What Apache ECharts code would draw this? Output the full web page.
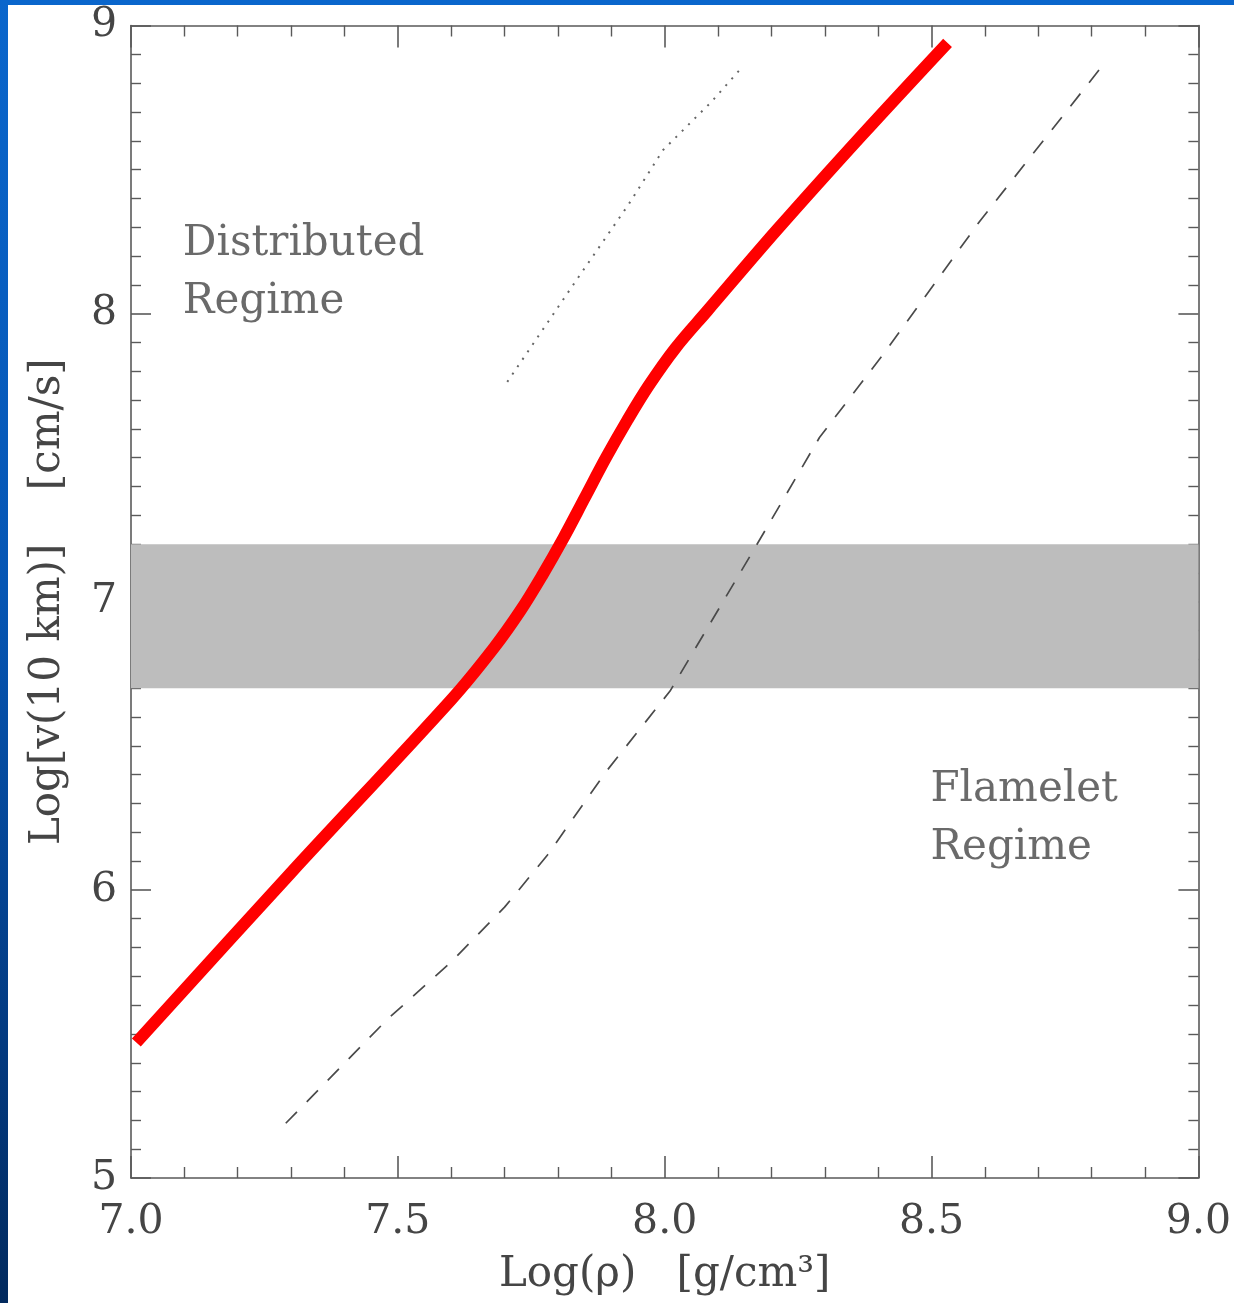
<!DOCTYPE html>
<html>
<head>
<meta charset="utf-8">
<script src="https://cdn.jsdelivr.net/npm/echarts@6/dist/echarts.min.js"></script>
<style>
  html, body { margin: 0; padding: 0; }
  body {
    width: 1234px; height: 1303px; overflow: hidden;
    background: linear-gradient(180deg, #0a66cc 0%, #0656b4 45%, #033a80 80%, #022a5e 100%);
    position: relative;
  }
  #chart {
    position: absolute; left: 8px; top: 5px;
    width: 1226px; height: 1298px; background: #ffffff;
  }
</style>
</head>
<body>
<div id="chart"></div>
<script>
// Axis ranges (log density, log velocity)
const rhoRange = [7.0, 9.0];
const velRange = [5, 9];

// Transition band between the two burning regimes
const bandLow = 6.7;
const bandHigh = 7.2;

// Thick red curve: turbulent velocity at 10 km
const fitRho = [7.01, 7.30, 7.60, 7.68, 7.73, 7.77, 7.81, 7.85, 7.89, 7.93, 7.97, 8.02, 8.08, 8.21, 8.37, 8.53];
const fitVel = [5.47, 6.06, 6.66, 6.84, 6.97, 7.09, 7.22, 7.36, 7.50, 7.63, 7.75, 7.88, 8.01, 8.29, 8.62, 8.94];

// Dashed curve
const dashRho = [7.29, 7.48, 7.60, 7.70, 7.78, 7.89, 8.01, 8.17, 8.29, 8.41, 8.59, 8.82];
const dashVel = [5.19, 5.55, 5.75, 5.94, 6.12, 6.41, 6.69, 7.19, 7.57, 7.86, 8.32, 8.86];

// Dotted curve
const dotRho = [7.705, 7.833, 7.932, 7.997, 8.087, 8.143];
const dotVel = [7.763, 8.112, 8.378, 8.568, 8.734, 8.851];

// Regime annotations: [rho, vel, text]
const regimeLabels = [
  [7.097, 8.14, 'Distributed\nRegime'],
  [8.498, 6.245, 'Flamelet\nRegime']
];

const xTitle = 'Log(\u03c1)   [g/cm\u00b3]';
const yTitle = 'Log[v(10 km)]    [cm/s]';

const FONT = '"DejaVu Serif", "Liberation Serif", serif';
const INK = '#454545';
const AXIS = '#5a5a5a';

const zip = (xs, ys) => xs.map((x, i) => [x, ys[i]]);

function xAxisCfg(pos, showLabel) {
  return {
    type: 'value', position: pos,
    min: rhoRange[0], max: rhoRange[1], interval: 0.5,
    name: showLabel ? xTitle : '',
    nameLocation: 'middle', nameGap: 76,
    nameTextStyle: { fontFamily: FONT, fontSize: 42, color: INK },
    axisLine: { show: true, onZero: false, lineStyle: { color: AXIS, width: 1.6 } },
    axisTick: { show: true, inside: true, length: 22, lineStyle: { color: AXIS, width: 1.6 } },
    minorTick: { show: true, splitNumber: 5, length: 11, lineStyle: { color: AXIS, width: 1.4 } },
    splitLine: { show: false },
    axisLabel: {
      show: showLabel, margin: 24,
      fontFamily: FONT, fontSize: 41, color: INK,
      formatter: v => v.toFixed(1)
    }
  };
}

function yAxisCfg(pos, showLabel) {
  return {
    type: 'value', position: pos,
    min: velRange[0], max: velRange[1], interval: 1,
    name: showLabel ? yTitle : '',
    nameLocation: 'middle', nameGap: 62, nameRotate: 90,
    nameTextStyle: { fontFamily: FONT, fontSize: 42, color: INK },
    axisLine: { show: true, onZero: false, lineStyle: { color: AXIS, width: 1.6 } },
    axisTick: { show: true, inside: true, length: 20, lineStyle: { color: AXIS, width: 1.6 } },
    minorTick: { show: true, splitNumber: 10, length: 10, lineStyle: { color: AXIS, width: 1.4 } },
    splitLine: { show: false },
    axisLabel: {
      show: showLabel, margin: 14,
      fontFamily: FONT, fontSize: 41, color: INK,
      formatter: v => String(v)
    }
  };
}

const chart = echarts.init(document.getElementById('chart'), null, { renderer: 'canvas' });

chart.setOption({
  backgroundColor: '#ffffff',
  animation: false,
  grid: { left: 123, top: 15, right: 32, bottom: 125 },
  xAxis: [xAxisCfg('bottom', true), xAxisCfg('top', false)],
  yAxis: [yAxisCfg('left', true), yAxisCfg('right', false)],
  series: [
    {
      name: 'dashed',
      type: 'line', xAxisIndex: 0, yAxisIndex: 0,
      data: zip(dashRho, dashVel),
      symbol: 'none', smooth: false,
      lineStyle: { color: '#4a4a4a', width: 1.7, type: [16, 14] },
      markArea: {
        silent: true,
        itemStyle: { color: '#bdbdbd' },
        data: [[{ yAxis: bandLow }, { yAxis: bandHigh }]]
      },
      z: 3
    },
    {
      name: 'dotted',
      type: 'line', xAxisIndex: 0, yAxisIndex: 0,
      data: zip(dotRho, dotVel),
      symbol: 'none', smooth: false,
      lineStyle: { color: '#666666', width: 2, type: [2, 7] },
      z: 3
    },
    {
      name: 'velocity',
      type: 'line', xAxisIndex: 0, yAxisIndex: 0,
      data: zip(fitRho, fitVel),
      symbol: 'none', smooth: 0.35,
      lineStyle: { color: '#ff0000', width: 12, cap: 'butt', join: 'round' },
      z: 5
    },
    {
      name: 'regimes',
      type: 'scatter', xAxisIndex: 0, yAxisIndex: 0,
      data: regimeLabels.map(r => ({ value: [r[0], r[1]], text: r[2] })),
      symbolSize: 0,
      silent: true,
      label: {
        show: true, position: 'right', distance: 0,
        align: 'left', verticalAlign: 'middle',
        fontFamily: FONT, fontSize: 42, lineHeight: 58, color: INK,
        formatter: p => p.data.text
      },
      z: 6
    }
  ]
});
</script>
</body>
</html>
